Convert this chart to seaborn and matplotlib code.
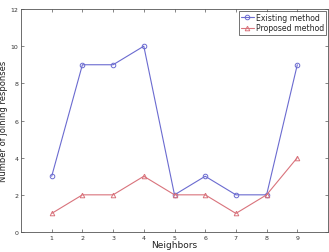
import numpy as np
import pandas as pd
import seaborn as sns
import matplotlib
matplotlib.use('Agg')
import matplotlib.pyplot as plt

# Data
neighbors = [1, 2, 3, 4, 5, 6, 7, 8, 9]
existing = [3, 9, 9, 10, 2, 3, 2, 2, 9]
proposed = [1, 2, 2, 3, 2, 2, 1, 2, 4]
series_names = ['Existing method', 'Proposed method']

df = pd.DataFrame({
    'Neighbors': neighbors * 2,
    'Responses': existing + proposed,
    'Method': [series_names[0]] * len(neighbors) + [series_names[1]] * len(neighbors),
})

sns.set_style('white')
plt.rcParams['font.family'] = ['DejaVu Sans']

fig = plt.figure(figsize=(3.29, 2.53), dpi=100)
ax = fig.add_axes([21 / 329, 20 / 253, 307 / 329, 223 / 253])

palette = {series_names[0]: '#6b6bd0', series_names[1]: '#d9737c'}
sns.lineplot(data=df, x='Neighbors', y='Responses', hue='Method', style='Method',
             markers={series_names[0]: 'o', series_names[1]: '^'},
             dashes=False, palette=palette, ax=ax, linewidth=0.8,
             markersize=3.3, markerfacecolor='none', markeredgewidth=0.7)

# seaborn sets face colors; force open markers
for line in ax.lines:
    line.set_markerfacecolor('none')
    line.set_markeredgecolor(line.get_color())

ax.set_xlim(0, 10)
ax.set_ylim(0, 12)
ax.set_xticks(neighbors)
ax.set_yticks(range(0, 13, 2))
ax.tick_params(direction='in', length=2.5, labelsize=4.5, bottom=True, left=True,
               top=True, right=True, labeltop=False, labelright=False, pad=2,
               width=0.5, colors='#555555', labelcolor='#333333')
for s in ax.spines.values():
    s.set_linewidth(0.6)
    s.set_color('#555555')
ax.set_xlabel('Neighbors', fontsize=6.5, labelpad=0, color='#222222')
ax.set_ylabel('Number of joining responses', fontsize=6, labelpad=2, color='#222222')

leg = ax.legend(loc='upper right', fontsize=5.6, frameon=True, fancybox=False,
                borderpad=0.3, handlelength=1.6, handletextpad=0.3,
                labelspacing=0.2, borderaxespad=0.2)
leg.get_frame().set_edgecolor('#333333')
leg.get_frame().set_linewidth(0.6)
for h in leg.get_lines():
    h.set_markerfacecolor('none')
    h.set_linewidth(0.8)

fig.savefig('out.png', dpi=100)
